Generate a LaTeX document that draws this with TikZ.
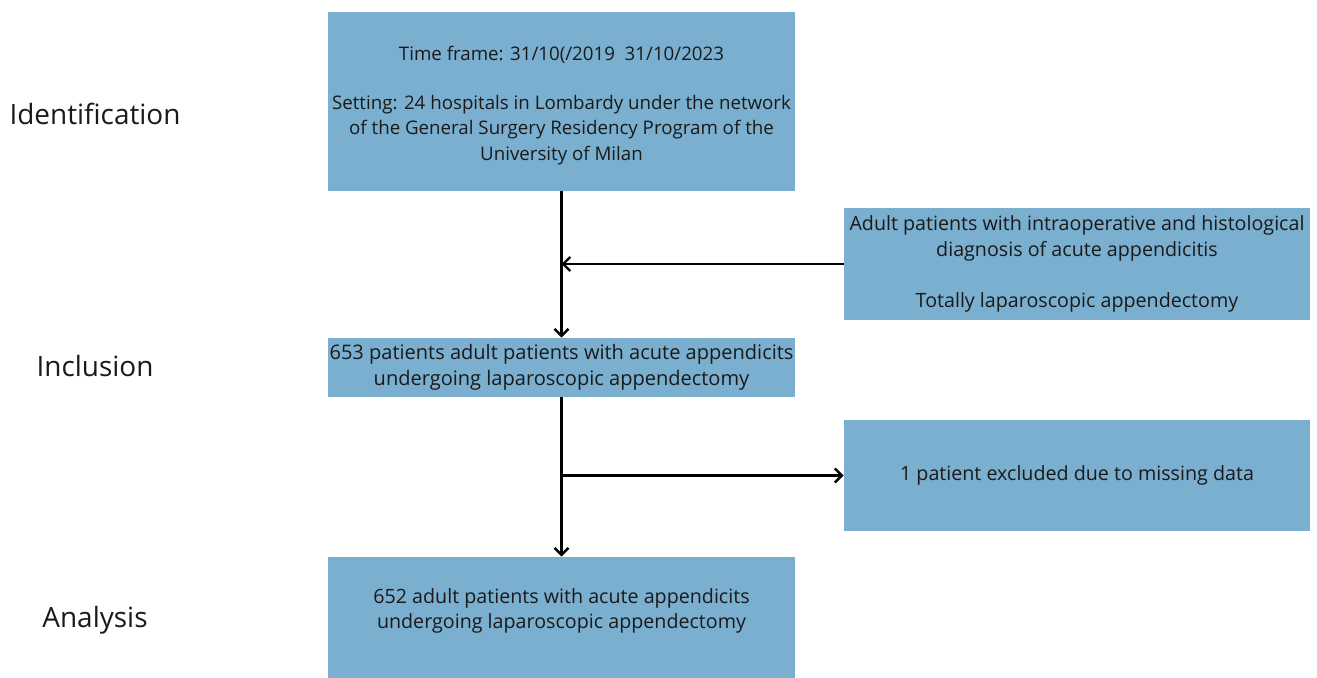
\documentclass[tikz,border=0pt]{standalone}
\usepackage{fontspec}
\setmainfont{Open Sans}
\usetikzlibrary{arrows.meta}
\definecolor{boxblue}{HTML}{7AAFD0}
\definecolor{txt}{HTML}{1A1A1A}
\tikzset{
  box/.style={fill=boxblue, draw=none, align=center, text=txt, inner sep=0pt,
    font=\fontsize{11.2}{14.5}\selectfont},
  stage/.style={text=txt, font=\fontsize{15.9}{19}\selectfont, inner sep=0pt},
  conn/.style={line width=1.4pt, draw=black},
  arr/.style={conn, -{Straight Barb[length=4pt,width=8pt,line width=1.4pt]}}
}
\begin{document}
\begin{tikzpicture}[x=0.02cm,y=-0.02cm]
\useasboundingbox (0,0) rectangle (1317,678);
\node[box, font=\fontsize{10.65}{14.5}\selectfont, minimum width=467*0.02cm, minimum height=179*0.02cm] (top) at (561.5,101.5)
  {\rule{0pt}{12.5pt}Time frame: 31/10(/2019\ \ 31/10/2023\\[13.5pt]
   Setting: 24 hospitals in Lombardy under the network\\
   of the General Surgery Residency Program of the\\
   University of Milan};
\node[box, minimum width=466*0.02cm, minimum height=112*0.02cm] (crit) at (1077,264)
  {Adult patients with intraoperative and histological\\
   diagnosis of acute appendicitis\\[14.5pt]
   Totally laparoscopic appendectomy};
\node[box, font=\fontsize{11.4}{14.5}\selectfont, minimum width=467*0.02cm, minimum height=59*0.02cm] (incl) at (561.5,367.5)
  {653 patients adult patients with acute appendicits\\
   undergoing laparoscopic appendectomy};
\node[box, minimum width=466*0.02cm, minimum height=111*0.02cm] (excl) at (1077,475.5)
  {1 patient excluded due to missing data};
\node[box, minimum width=467*0.02cm, minimum height=108*0.02cm] (final) at (561.5,611)
  {652 adult patients with acute appendicits\\
   undergoing laparoscopic appendectomy};
\fill[boxblue] ([yshift=0.5pt]final.south west) rectangle (795,678.5);

\node[stage] (s1) at (95,114) {Identification};
\node[stage] (s2) at (95,366) {Inclusion};
\node[stage] (s3) at (95,620) {Analysis};

\coordinate (j1) at (incl.north |- crit.west);
\coordinate (j2) at (incl.north |- excl.west);
\draw[conn] (top.south) -- (j1);
\draw[arr] (j1) -- (incl.north);
\draw[arr] (crit.west) -- (j1);
\draw[conn] (incl.south) -- (j2);
\draw[arr] (j2) -- (final.north);
\draw[arr] (j2) -- (excl.west);
\end{tikzpicture}
\end{document}
